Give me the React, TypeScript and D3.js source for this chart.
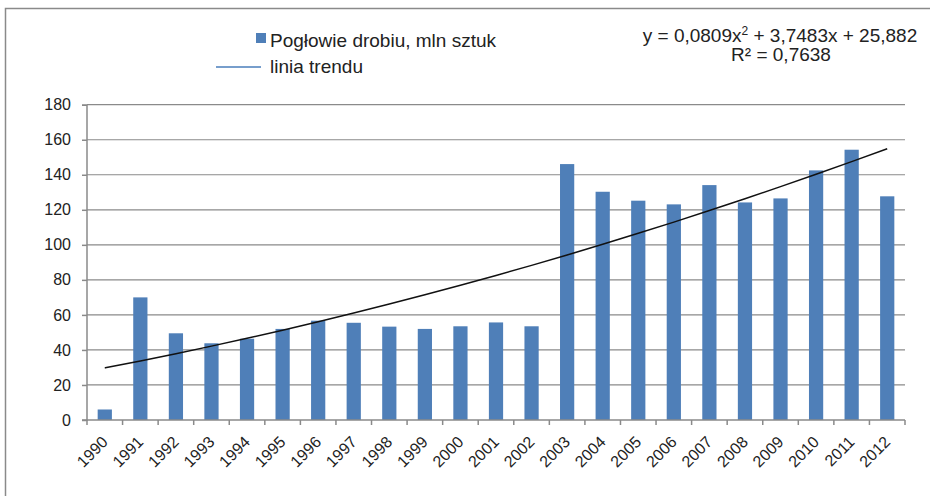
import React, { useEffect, useRef } from 'react';
import * as d3 from 'd3';

const years = ['1990', '1991', '1992', '1993', '1994', '1995', '1996', '1997', '1998', '1999', '2000', '2001',
  '2002', '2003', '2004', '2005', '2006', '2007', '2008', '2009', '2010', '2011', '2012'];
const poultry = [6, 70, 49.5, 43.8, 46.4, 52, 56.7, 55.5, 53.3, 52, 53.5, 55.7,
  53.5, 146.1, 130.3, 125.2, 123.1, 134.1, 124.2, 126.5, 142.5, 154.3, 127.7];
const yTicks = [0, 20, 40, 60, 80, 100, 120, 140, 160, 180];
// trend: y = a*x^2 + b*x + c, x = 1..23
const trendCoef = [0.0809, 3.7483, 25.882];
const seriesLabel = 'Pogłowie drobiu, mln sztuk';
const trendLabel = 'linia trendu';

const FONT = '"Liberation Sans", Arial, sans-serif';

const App = () => {
  const svgRef = useRef(null);
  const width = 930;
  const height = 496;

  useEffect(() => {
    d3.select(svgRef.current).selectAll('*').remove();

    const margin = { top: 104.7, right: 25, bottom: 76, left: 87 };
    const innerWidth = width - margin.left - margin.right;
    const innerHeight = height - margin.top - margin.bottom;

    const svg = d3.select(svgRef.current).attr('width', width).attr('height', height);

    // outer frame (right and bottom sides fall outside the picture)
    svg.append('path')
      .attr('d', `M5.5,${height + 5} V8.5 H${width + 5}`)
      .attr('fill', 'none')
      .attr('stroke', '#8a8a8a')
      .attr('stroke-width', 1.5);

    const chart = svg.append('g').attr('transform', `translate(${margin.left}, ${margin.top})`);

    const xScale = d3.scaleBand().domain(years).range([0, innerWidth]).paddingInner(0.6).paddingOuter(0.3);
    const yScale = d3.scaleLinear().domain([0, 180]).range([innerHeight, 0]);

    // gridlines
    chart.append('g')
      .selectAll('line')
      .data(yTicks.filter(d => d > 0))
      .join('line')
      .attr('x1', 0)
      .attr('x2', innerWidth)
      .attr('y1', d => yScale(d))
      .attr('y2', d => yScale(d))
      .attr('stroke', '#8a8a8a')
      .attr('stroke-width', 1.2);

    // bars
    chart.append('g')
      .selectAll('rect')
      .data(poultry)
      .join('rect')
      .attr('x', (d, i) => xScale(years[i]))
      .attr('y', d => yScale(d))
      .attr('width', xScale.bandwidth())
      .attr('height', d => innerHeight - yScale(d))
      .attr('fill', '#4f7fb8');

    // y axis
    const yAxis = chart.append('g')
      .call(d3.axisLeft(yScale).tickValues(yTicks).tickSize(5).tickPadding(11));
    yAxis.select('.domain').attr('stroke', '#8a8a8a').attr('stroke-width', 1.5).attr('d', `M-5,0.5H0V${innerHeight}H-5`);
    yAxis.selectAll('.tick line').attr('stroke', '#8a8a8a').attr('stroke-width', 1.5);
    yAxis.selectAll('.tick text').attr('font-family', FONT).attr('font-size', 16).attr('fill', '#222');

    // x axis: ticks at band edges
    const edges = d3.range(years.length + 1).map(i => i * xScale.step());
    const xAxis = chart.append('g').attr('transform', `translate(0, ${innerHeight})`);
    xAxis.append('line')
      .attr('x1', 0).attr('x2', innerWidth)
      .attr('stroke', '#8a8a8a').attr('stroke-width', 1.5);
    xAxis.selectAll('line.tk')
      .data(edges)
      .join('line')
      .attr('class', 'tk')
      .attr('x1', d => d).attr('x2', d => d)
      .attr('y1', 0).attr('y2', 5)
      .attr('stroke', '#8a8a8a').attr('stroke-width', 1.5);
    xAxis.selectAll('text')
      .data(years)
      .join('text')
      .attr('transform', d => `translate(${xScale(d) + xScale.bandwidth() / 2 + 4}, 23) rotate(-45)`)
      .attr('text-anchor', 'end')
      .attr('font-family', FONT)
      .attr('font-size', 16)
      .attr('fill', '#222')
      .text(d => d);

    // trend line
    const trend = years.map((d, i) => {
      const x = i + 1;
      return [xScale(d) + xScale.bandwidth() / 2, trendCoef[0] * x * x + trendCoef[1] * x + trendCoef[2]];
    });
    const line = d3.line().x(d => d[0]).y(d => yScale(d[1])).curve(d3.curveMonotoneX);
    chart.append('path')
      .datum(trend)
      .attr('fill', 'none')
      .attr('stroke', '#111')
      .attr('stroke-width', 1.5)
      .attr('d', line);

    // legend
    const legend = svg.append('g').attr('font-family', FONT).attr('font-size', 19).attr('fill', '#222');
    legend.append('rect').attr('x', 256).attr('y', 33).attr('width', 10).attr('height', 10).attr('fill', '#4f7fb8');
    legend.append('text').attr('x', 270).attr('y', 47).text(seriesLabel);
    legend.append('line').attr('x1', 216).attr('x2', 261).attr('y1', 67).attr('y2', 67)
      .attr('stroke', '#4a7ebb').attr('stroke-width', 1.5);
    legend.append('text').attr('x', 270).attr('y', 73).text(trendLabel);

    // equation
    const eq = svg.append('g').attr('font-family', FONT).attr('font-size', 19).attr('fill', '#222')
      .attr('text-anchor', 'middle');
    const fmt = v => String(v).replace('.', ',');
    const t1 = eq.append('text').attr('x', 780).attr('y', 42);
    t1.append('tspan').text(`y = ${fmt(trendCoef[0])}x`);
    t1.append('tspan').attr('font-size', 12).attr('dy', -7).text('2');
    t1.append('tspan').attr('dy', 7).text(` + ${fmt(trendCoef[1])}x + ${fmt(trendCoef[2])}`);
    eq.append('text').attr('x', 781).attr('y', 61).text('R² = 0,7638');
  }, []);

  return <svg ref={svgRef} style={{ position: 'absolute', left: 0, top: 0 }}></svg>;
};

export default App;
